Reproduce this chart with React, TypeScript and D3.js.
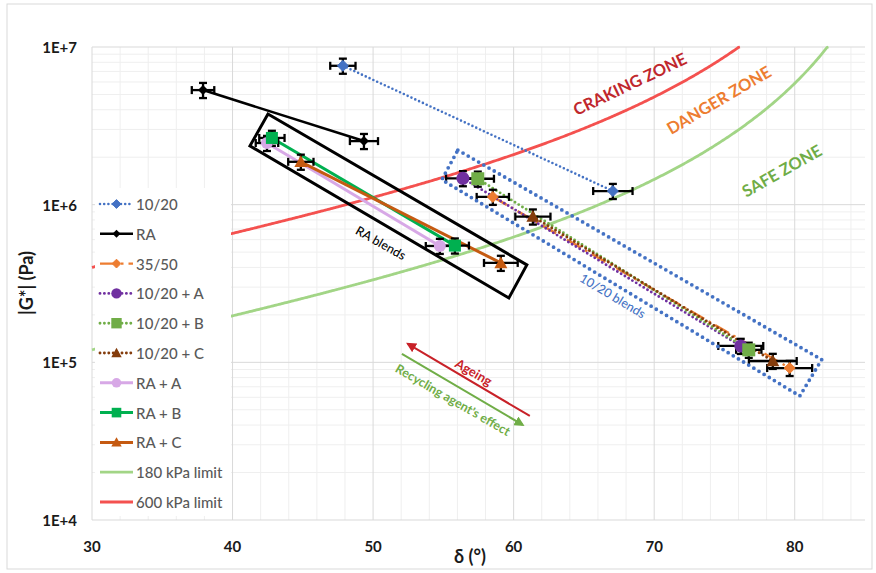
import React from "react";
import * as d3 from "d3";

// ---- data: phase angle δ (°), complex modulus |G*| (Pa), δ error (°) ----
const SERIES_NAMES = ["10/20", "RA", "35/50", "10/20 + A", "10/20 + B", "10/20 + C", "RA + A", "RA + B", "RA + C"];

const DELTA_1020 = [47.85, 67.06];
const G_1020 = [7.6e6, 1.22e6];
const DERR_1020 = [0.9, 1.4];

const DELTA_RA = [37.9, 49.35];
const G_RA = [5.33e6, 2.53e6];
const DERR_RA = [0.8, 1.0];

const DELTA_3550 = [58.52, 79.64];
const G_3550 = [1.12e6, 9.2e4];
const DERR_3550 = [1.15, 1.6];

const DELTA_1020A = [56.39, 76.16];
const G_1020A = [1.47e6, 1.27e5];
const DERR_1020A = [1.2, 1.6];

const DELTA_1020B = [57.45, 76.73];
const G_1020B = [1.46e6, 1.2e5];
const DERR_1020B = [1.15, 0.9];

const DELTA_1020C = [61.37, 78.44];
const G_1020C = [8.4e5, 1.02e5];
const DERR_1020C = [1.25, 1.7];

const DELTA_RAA = [42.45, 54.75];
const G_RAA = [2.46e6, 5.47e5];
const DERR_RAA = [0.8, 1.0];

const DELTA_RAB = [42.8, 55.82];
const G_RAB = [2.65e6, 5.5e5];
const DERR_RAB = [0.9, 1.0];

const DELTA_RAC = [44.86, 59.09];
const G_RAC = [1.87e6, 4.27e5];
const DERR_RAC = [0.9, 1.2];

// relative |G*| error
const G_REL_ERR = 0.11;

// Glover-Rowe type limits: |G*| cos²δ / sinδ = limit
const LIMITS_KPA = [180, 600];
const LIMIT_NAMES = ["180 kPa limit", "600 kPa limit"];

const X_TICKS = [30, 40, 50, 60, 70, 80];
const Y_TICKS = [1e4, 1e5, 1e6, 1e7];
const Y_TICK_LABELS = ["1E+4", "1E+5", "1E+6", "1E+7"];

// ---- styling ----
type Marker = "diamond" | "circle" | "square" | "triangle";
interface Style { color: string; dash: string | null; dotted: boolean; width: number; marker: Marker; size: number; }

const STYLES: Style[] = [
  { color: "#4472C4", dash: "0 4.2", dotted: true, width: 2.6, marker: "diamond", size: 11 },
  { color: "#000000", dash: null, dotted: false, width: 2.6, marker: "diamond", size: 10 },
  { color: "#ED7D31", dash: "16 5 2.5 5", dotted: false, width: 2.4, marker: "diamond", size: 11 },
  { color: "#7030A0", dash: "0 4.4", dotted: true, width: 2.9, marker: "circle", size: 13 },
  { color: "#70AD47", dash: "0 4.4", dotted: true, width: 2.9, marker: "square", size: 13 },
  { color: "#843C0C", dash: "0 4.4", dotted: true, width: 2.9, marker: "triangle", size: 13 },
  { color: "#D7A8E6", dash: null, dotted: false, width: 3, marker: "circle", size: 12 },
  { color: "#00B050", dash: null, dotted: false, width: 3, marker: "square", size: 12 },
  { color: "#C55A11", dash: null, dotted: false, width: 3, marker: "triangle", size: 13 },
];
const LIMIT_COLORS = ["#A2D586", "#F4514F"];

const SERIES = [
  [DELTA_1020, G_1020, DERR_1020],
  [DELTA_RA, G_RA, DERR_RA],
  [DELTA_3550, G_3550, DERR_3550],
  [DELTA_1020A, G_1020A, DERR_1020A],
  [DELTA_1020B, G_1020B, DERR_1020B],
  [DELTA_1020C, G_1020C, DERR_1020C],
  [DELTA_RAA, G_RAA, DERR_RAA],
  [DELTA_RAB, G_RAB, DERR_RAB],
  [DELTA_RAC, G_RAC, DERR_RAC],
];

// annotation boxes in (δ, |G*|) space
const RA_BOX: [number, number][] = [[42.52, 3.76e6], [60.94, 4.15e5], [59.66, 2.56e5], [41.24, 2.36e6]];
const BOX_1020: [number, number][] = [[56.03, 2.22e6], [81.92, 1.04e5], [80.36, 6.12e4], [54.89, 1.44e6]];
const AGEING_ARROW: [number, number][] = [[61.15, 4.57e4], [52.47, 1.31e5]];
const RECYCLING_ARROW: [number, number][] = [[52.05, 1.13e5], [60.65, 4.01e4]];

const W = 876;
const H = 573;
const FONT = "Lato, 'Open Sans', sans-serif";

const x = d3.scaleLinear().domain([30, 85]).range([92, 865]);
const y = d3.scaleLog().domain([1e4, 1e7]).range([520, 47]);

function markerPath(m: Marker, size: number): string {
  const s = size / 2;
  switch (m) {
    case "diamond":
      return `M0,${-s}L${s},0L0,${s}L${-s},0Z`;
    case "square":
      return `M${-s},${-s}H${s}V${s}H${-s}Z`;
    case "triangle":
      return `M0,${-s}L${s},${s * 0.8}L${-s},${s * 0.8}Z`;
    default:
      return d3.symbol(d3.symbolCircle, Math.PI * s * s)() || "";
  }
}

function MarkerShape({ st, cx, cy, scale = 1 }: { st: Style; cx: number; cy: number; scale?: number }) {
  return (
    <path
      d={markerPath(st.marker, st.size * scale)}
      transform={`translate(${cx},${cy})`}
      fill={st.color}
      stroke={st.marker === "diamond" && st.color !== "#000000" ? st.color : "none"}
    />
  );
}

export default function App() {
  const [x0, x1] = x.range();
  const [yb, yt] = y.range();

  const minorX = d3.range(32, 85, 2).filter((v) => v % 10 !== 0);
  const minorY: number[] = [];
  for (let e = 4; e < 7; e++) for (let k = 2; k <= 9; k++) minorY.push(k * Math.pow(10, e));

  const line = d3
    .line<[number, number]>()
    .x((d) => x(d[0]))
    .y((d) => y(d[1]));

  const limitCurve = (kpa: number) => {
    const pts: [number, number][] = [];
    for (let dd = 30; dd <= 85; dd += 0.1) {
      const r = (dd * Math.PI) / 180;
      const g = (kpa * 1000 * Math.sin(r)) / (Math.cos(r) * Math.cos(r));
      if (g > 1e7) {
        pts.push([dd, 1e7]);
        break;
      }
      pts.push([dd, g]);
    }
    return line(pts) || "";
  };

  const poly = (pts: [number, number][]) => pts.map((p) => `${x(p[0])},${y(p[1])}`).join(" ");

  const legendX = 100;
  const legendY0 = 204;
  const legendStep = 29.8;

  const rotText = (
    dx: number,
    gy: number,
    angle: number,
    text: string,
    color: string,
    size: number,
    weight: number | string = 400
  ) => (
    <text
      x={x(dx)}
      y={y(gy)}
      transform={`rotate(${angle},${x(dx)},${y(gy)})`}
      textAnchor="middle"
      dominantBaseline="central"
      fill={color}
      fontSize={size}
      fontWeight={weight}
      fontFamily={FONT}
    >
      {text}
    </text>
  );

  return (
    <svg width={W} height={H} style={{ position: "absolute", left: 0, top: 0, background: "#fff" }}>
      <defs>
        <marker id="arrRed" viewBox="0 0 10 10" refX="8" refY="5" markerWidth="5" markerHeight="5" orient="auto">
          <path d="M0,0L10,5L0,10Z" fill="#C82128" />
        </marker>
        <marker id="arrGreen" viewBox="0 0 10 10" refX="8" refY="5" markerWidth="5" markerHeight="5" orient="auto">
          <path d="M0,0L10,5L0,10Z" fill="#70AD47" />
        </marker>
      </defs>
      <rect x={7} y={4} width={865} height={565} fill="#fff" stroke="#D9D9D9" strokeWidth={1} />

      {/* gridlines */}
      <g>
        {minorX.map((v) => (
          <line key={"mx" + v} x1={x(v)} x2={x(v)} y1={yt} y2={yb} stroke="#EFEFEF" />
        ))}
        {minorY.map((v) => (
          <line key={"my" + v} x1={x0} x2={x1} y1={y(v)} y2={y(v)} stroke="#EFEFEF" />
        ))}
        {X_TICKS.map((v) => (
          <line key={"gx" + v} x1={x(v)} x2={x(v)} y1={yt} y2={yb} stroke="#D9D9D9" />
        ))}
        {Y_TICKS.map((v) => (
          <line key={"gy" + v} x1={x0} x2={x1} y1={y(v)} y2={y(v)} stroke="#D9D9D9" />
        ))}
      </g>

      {/* limit curves */}
      {LIMITS_KPA.map((kpa, i) => (
        <path key={"lim" + kpa} d={limitCurve(kpa)} fill="none" stroke={LIMIT_COLORS[i]} strokeWidth={2.8} />
      ))}

      {/* legend background */}
      <rect x={95} y={188} width={136} height={328} fill="#fff" />

      {/* series lines */}
      {SERIES.map(([dl, gv], i) => {
        const st = STYLES[i];
        const pts = dl.map((d, j) => [d, gv[j]] as [number, number]);
        return (
          <path
            key={"ln" + i}
            d={line(pts) || ""}
            fill="none"
            stroke={st.color}
            strokeWidth={st.width}
            strokeDasharray={st.dash || undefined}
            strokeLinecap={st.dotted ? "round" : "butt"}
          />
        );
      })}

      {/* error bars */}
      {SERIES.map(([dl, gv, de], i) =>
        dl.map((d, j) => {
          const cx = x(d);
          const cy = y(gv[j]);
          const xl = x(d - de[j]);
          const xr = x(d + de[j]);
          const yu = y(gv[j] * (1 + G_REL_ERR));
          const yd = y(gv[j] * (1 - G_REL_ERR));
          return (
            <g key={`eb${i}-${j}`} stroke="#000" strokeWidth={2.3}>
              <line x1={xl} x2={xr} y1={cy} y2={cy} />
              <line x1={xl} x2={xl} y1={cy - 4} y2={cy + 4} />
              <line x1={xr} x2={xr} y1={cy - 4} y2={cy + 4} />
              <line x1={cx} x2={cx} y1={yu} y2={yd} />
              <line x1={cx - 4} x2={cx + 4} y1={yu} y2={yu} />
              <line x1={cx - 4} x2={cx + 4} y1={yd} y2={yd} />
            </g>
          );
        })
      )}

      {/* markers */}
      {SERIES.map(([dl, gv], i) =>
        dl.map((d, j) => <MarkerShape key={`mk${i}-${j}`} st={STYLES[i]} cx={x(d)} cy={y(gv[j])} />)
      )}

      {/* annotation boxes */}
      <polygon points={poly(RA_BOX)} fill="none" stroke="#000" strokeWidth={3} />
      <polygon
        points={poly(BOX_1020)}
        fill="none"
        stroke="#4472C4"
        strokeWidth={3.8}
        strokeDasharray="0 6"
        strokeLinecap="round"
      />
      {rotText(50.55, 5.72e5, 29.5, "RA blends", "#000", 12.5, 500)}
      {rotText(67.06, 2.64e5, 31, "10/20 blends", "#4472C4", 12.5, 500)}

      {/* arrows */}
      <line
        x1={x(AGEING_ARROW[0][0])}
        y1={y(AGEING_ARROW[0][1])}
        x2={x(AGEING_ARROW[1][0])}
        y2={y(AGEING_ARROW[1][1])}
        stroke="#C82128"
        strokeWidth={2}
        markerEnd="url(#arrRed)"
      />
      <line
        x1={x(RECYCLING_ARROW[0][0])}
        y1={y(RECYCLING_ARROW[0][1])}
        x2={x(RECYCLING_ARROW[1][0])}
        y2={y(RECYCLING_ARROW[1][1])}
        stroke="#70AD47"
        strokeWidth={2}
        markerEnd="url(#arrGreen)"
      />
      {rotText(57.17, 8.69e4, 30, "Ageing", "#C82128", 13, 700)}
      {rotText(55.68, 5.78e4, 30, "Recycling agent's effect", "#70AD47", 12.5, 700)}

      {/* zone labels */}
      {rotText(68.27, 5.82e6, -25.5, "CRAKING ZONE", "#C0272D", 16.5, 700)}
      {rotText(74.6, 4.61e6, -30.5, "DANGER ZONE", "#ED7D31", 16.5, 700)}
      {rotText(79.08, 1.64e6, -29.5, "SAFE ZONE", "#70AD47", 16.5, 700)}

      {/* legend */}
      <g fontFamily={FONT} fontSize={15} fill="#595959" fontWeight={500}>
        {SERIES_NAMES.map((name, i) => {
          const st = STYLES[i];
          const ly = legendY0 + i * legendStep;
          return (
            <g key={"lg" + i}>
              <line
                x1={legendX}
                x2={legendX + 33}
                y1={ly}
                y2={ly}
                stroke={st.color}
                strokeWidth={st.width}
                strokeDasharray={st.dash || undefined}
                strokeLinecap={st.dotted ? "round" : "butt"}
              />
              <MarkerShape st={st} cx={legendX + 16.5} cy={ly} scale={0.8} />
              <text x={legendX + 36} y={ly} dominantBaseline="central">
                {name}
              </text>
            </g>
          );
        })}
        {LIMIT_NAMES.map((name, i) => {
          const ly = legendY0 + (SERIES_NAMES.length + i) * legendStep;
          return (
            <g key={"ll" + i}>
              <line x1={legendX} x2={legendX + 33} y1={ly} y2={ly} stroke={LIMIT_COLORS[i]} strokeWidth={2.8} />
              <text x={legendX + 36} y={ly} dominantBaseline="central">
                {name}
              </text>
            </g>
          );
        })}
      </g>

      {/* axes labels */}
      <g fontFamily={FONT} fontWeight={700} fontSize={15} fill="#1a1a1a">
        {Y_TICKS.map((v, i) => (
          <text key={"yt" + v} x={77} y={y(v)} textAnchor="end" dominantBaseline="central">
            {Y_TICK_LABELS[i]}
          </text>
        ))}
        {X_TICKS.map((v) => (
          <text key={"xt" + v} x={x(v)} y={546} textAnchor="middle" dominantBaseline="central">
            {v}
          </text>
        ))}
      </g>
      <text
        x={26}
        y={283}
        transform="rotate(-90,26,283)"
        textAnchor="middle"
        dominantBaseline="central"
        fontFamily={FONT}
        fontWeight={700}
        fontSize={18}
        fill="#1a1a1a"
      >
        |G*| (Pa)
      </text>
      <text
        x={470}
        y={556}
        textAnchor="middle"
        dominantBaseline="central"
        fontFamily={FONT}
        fontWeight={700}
        fontSize={18}
        fill="#1a1a1a"
      >
        δ (°)
      </text>
    </svg>
  );
}
